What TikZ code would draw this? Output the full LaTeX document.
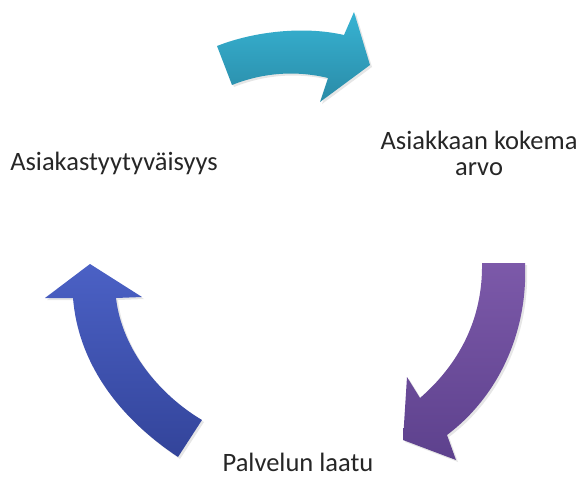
\documentclass[tikz,border=0pt]{standalone}
\usepackage{fontspec}
\setmainfont{Carlito}
\usetikzlibrary{shadows}

\definecolor{tealA}{HTML}{37B3D3}
\definecolor{tealB}{HTML}{2A8BA7}
\definecolor{violaA}{HTML}{7C59A9}
\definecolor{violaB}{HTML}{5D418D}
\definecolor{bluA}{HTML}{4B61C5}
\definecolor{bluB}{HTML}{33449A}

\begin{document}
\begin{tikzpicture}[x=1pt,y=-1pt,
		testo/.style={font=\fontsize{26.5}{26}\selectfont, text=black!85, inner sep=0pt, anchor=base},
		freccia/.style={draw=none, drop shadow={opacity=0.2, shadow xshift=2pt, shadow yshift=-2pt}}]
			\useasboundingbox (0,0) rectangle (579,479);
			%%%	Frecce
			\path[freccia, top color=tealA, bottom color=tealB] (217,46) .. controls (255,31) and (305,26) .. (344,35)
			-- (354,12) -- (370,65) -- (320,102) -- (328,78)
			.. controls (295,70) and (262,73) .. (232,85) -- cycle;
			\path[freccia, top color=violaA, bottom color=violaB] (482,263) -- (525,263)
			.. controls (528,330) and (500,395) .. (447,435)
			-- (456,460) -- (403,440) -- (407,377) -- (420,398)
			.. controls (458,365) and (483,320) .. (482,263) -- cycle;
			\path[freccia, top color=bluA, bottom color=bluB] (202,420)
			.. controls (160,395) and (122,350) .. (116,298)
			-- (142,297) -- (90,264) -- (45,298) -- (73,298)
			.. controls (78,360) and (115,415) .. (178,457) -- cycle;
			%%%	Testi
			\node[testo] (tyytyvaisyys) at (114,170) {Asiakastyytyväisyys};
			\node[testo, align=center] (arvo) at (479,175) {Asiakkaan kokema\\arvo};
			\node[testo] (laatu) at (298,471) {Palvelun laatu};
		\end{tikzpicture}
\end{document}
